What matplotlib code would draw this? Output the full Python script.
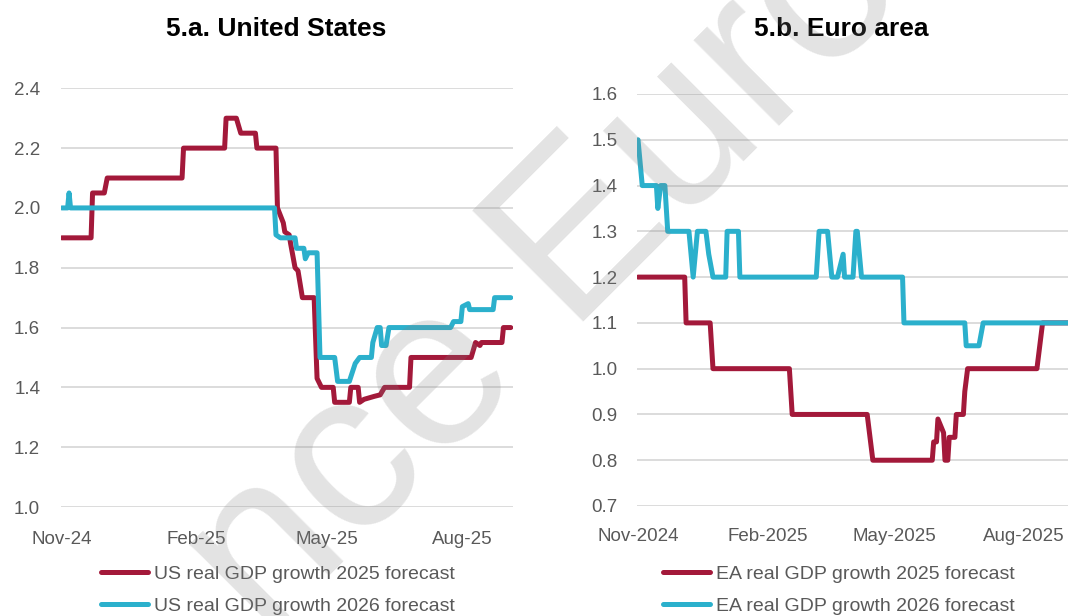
"""Real GDP growth forecasts for 2025 and 2026: United States vs Euro area."""
from datetime import datetime
import matplotlib
matplotlib.use("Agg")
import matplotlib.pyplot as plt
import matplotlib.dates as mdates
from matplotlib.ticker import FormatStrFormatter

plt.rcParams["font.family"] = ["Liberation Sans", "DejaVu Sans"]

RED = "#A3193A"
CYAN = "#2BB0CC"
GRID = "#D9D9D9"
TXT = "#595959"

# ---- data (change points of the consensus forecasts) ----
us25_dates = ["2024-11-01", "2024-11-21", "2024-11-22", "2024-11-30", "2024-12-02",
              "2025-01-22", "2025-01-23", "2025-02-20", "2025-02-21", "2025-02-28",
              "2025-03-03", "2025-03-13", "2025-03-14", "2025-03-27", "2025-03-28",
              "2025-04-01", "2025-04-02", "2025-04-05", "2025-04-06", "2025-04-09",
              "2025-04-11", "2025-04-14", "2025-04-22", "2025-04-24", "2025-04-27",
              "2025-05-05", "2025-05-06", "2025-05-16", "2025-05-17", "2025-05-22",
              "2025-05-23", "2025-05-26", "2025-06-02", "2025-06-06", "2025-06-09",
              "2025-06-26", "2025-06-27", "2025-08-07", "2025-08-10", "2025-08-13",
              "2025-08-14", "2025-08-28", "2025-08-29", "2025-09-03"]
us25_vals = [1.90, 1.90, 2.05, 2.05, 2.10,
             2.10, 2.20, 2.20, 2.30, 2.30,
             2.25, 2.25, 2.20, 2.20, 2.00,
             1.95, 1.92, 1.91, 1.88, 1.80,
             1.79, 1.70, 1.70, 1.43, 1.40,
             1.40, 1.35, 1.35, 1.40, 1.40,
             1.35, 1.36, 1.37, 1.375, 1.40,
             1.40, 1.50, 1.50, 1.55, 1.54,
             1.55, 1.55, 1.60, 1.60]

us26_dates = ["2024-11-01", "2024-11-05", "2024-11-06", "2024-11-07", "2025-03-26",
              "2025-03-27", "2025-03-30", "2025-04-09", "2025-04-10", "2025-04-15",
              "2025-04-16", "2025-04-18", "2025-04-24", "2025-04-26", "2025-05-06",
              "2025-05-08", "2025-05-16", "2025-05-20", "2025-05-23", "2025-05-31",
              "2025-06-01", "2025-06-04", "2025-06-06", "2025-06-07", "2025-06-10",
              "2025-06-12", "2025-07-24", "2025-07-26", "2025-07-31", "2025-08-01",
              "2025-08-05", "2025-08-06", "2025-08-22", "2025-08-23", "2025-09-03"]
us26_vals = [2.00, 2.00, 2.05, 2.00, 2.00,
             1.91, 1.90, 1.90, 1.865, 1.865,
             1.83, 1.85, 1.85, 1.50, 1.50,
             1.42, 1.42, 1.48, 1.50, 1.50,
             1.55, 1.60, 1.60, 1.54, 1.54,
             1.60, 1.60, 1.62, 1.62, 1.67,
             1.68, 1.66, 1.66, 1.70, 1.70]

ea25_dates = ["2024-11-01", "2024-12-04", "2024-12-05", "2024-12-22", "2024-12-24",
              "2025-02-16", "2025-02-18", "2025-04-12", "2025-04-16", "2025-05-28",
              "2025-05-29", "2025-05-31", "2025-06-01", "2025-06-05", "2025-06-06",
              "2025-06-08", "2025-06-09", "2025-06-13", "2025-06-14", "2025-06-19",
              "2025-06-20", "2025-06-22", "2025-08-10", "2025-08-14", "2025-09-03"]
ea25_vals = [1.20, 1.20, 1.10, 1.10, 1.00,
             1.00, 0.90, 0.90, 0.80, 0.80,
             0.84, 0.84, 0.89, 0.86, 0.80,
             0.80, 0.85, 0.85, 0.90, 0.90,
             0.95, 1.00, 1.00, 1.10, 1.10]

ea26_dates = ["2024-11-01", "2024-11-04", "2024-11-14", "2024-11-15", "2024-11-17",
              "2024-11-20", "2024-11-22", "2024-12-07", "2024-12-10", "2024-12-13",
              "2024-12-19", "2024-12-21", "2024-12-24", "2025-01-02", "2025-01-03",
              "2025-01-11", "2025-01-12", "2025-03-07", "2025-03-09", "2025-03-15",
              "2025-03-18", "2025-03-22", "2025-03-26", "2025-03-27", "2025-04-02",
              "2025-04-04", "2025-04-05", "2025-04-08", "2025-05-07", "2025-05-08",
              "2025-06-20", "2025-06-21", "2025-06-30", "2025-07-03", "2025-09-03"]
ea26_vals = [1.50, 1.40, 1.40, 1.35, 1.40,
             1.40, 1.30, 1.30, 1.20, 1.30,
             1.30, 1.25, 1.20, 1.20, 1.30,
             1.30, 1.20, 1.20, 1.30, 1.30,
             1.20, 1.20, 1.25, 1.20, 1.20,
             1.30, 1.30, 1.20, 1.20, 1.10,
             1.10, 1.05, 1.05, 1.10, 1.10]

xticks = ["2024-11-01", "2025-02-01", "2025-05-01", "2025-08-01"]


def to_dt(seq):
    return [datetime.strptime(s, "%Y-%m-%d") for s in seq]


W, H = 1068, 616
fig = plt.figure(figsize=(W / 100, H / 100), dpi=100, facecolor="white")

ax1 = fig.add_axes([61 / W, 1 - 507 / H, 451.6 / W, 418.7 / H])
ax2 = fig.add_axes([637.3 / W, 1 - 506 / H, 435 / W, 412 / H])


def style(ax, ylim, yticks, fmt, xfmt, ypad, xpad):
    ax.set_facecolor("none")
    for spine in ax.spines.values():
        spine.set_visible(False)
    ax.set_ylim(*ylim)
    ax.set_yticks(yticks)
    ax.yaxis.set_major_formatter(FormatStrFormatter(fmt))
    ax.set_xticks(to_dt(xticks))
    ax.xaxis.set_major_formatter(mdates.DateFormatter(xfmt))
    ax.grid(True, axis="y", color=GRID, linewidth=1.3)
    ax.set_axisbelow(True)
    ax.tick_params(axis="both", length=0, labelsize=13.5, labelcolor=TXT)
    ax.tick_params(axis="y", pad=ypad)
    ax.tick_params(axis="x", pad=xpad)


lw = 3.6
kw = dict(linewidth=lw, solid_capstyle="round", solid_joinstyle="round")

# ---- 5.a United States ----
ax1.plot(to_dt(us25_dates), us25_vals, color=RED, label="US real GDP growth 2025 forecast", **kw)
ax1.plot(to_dt(us26_dates), us26_vals, color=CYAN, label="US real GDP growth 2026 forecast", **kw)
ax1.set_xlim(datetime(2024, 10, 31, 12), datetime(2025, 9, 4, 6))
style(ax1, (1.0, 2.4), [1.0 + 0.2 * i for i in range(8)], "%.1f", "%b-%y", 15, 17)

# ---- 5.b Euro area ----
ax2.plot(to_dt(ea25_dates), ea25_vals, color=RED, label="EA real GDP growth 2025 forecast", **kw)
ax2.plot(to_dt(ea26_dates), ea26_vals, color=CYAN, label="EA real GDP growth 2026 forecast", **kw)
ax2.set_xlim(datetime(2024, 10, 31, 12), datetime(2025, 9, 4))
style(ax2, (0.7, 1.6), [0.7 + 0.1 * i for i in range(10)], "%.1f", "%b-%Y", 14, 16)

fig.text(276 / W, 1 - 29 / H, "5.a. United States", ha="center", va="center",
         fontsize=19, fontweight="bold", color="black")
fig.text(841 / W, 1 - 29 / H, "5.b. Euro area", ha="center", va="center",
         fontsize=19, fontweight="bold", color="black")

for ax, x0 in ((ax1, 101), (ax2, 663)):
    ax.legend(loc="upper left", bbox_to_anchor=(x0 / W, 1 - 565 / H),
              bbox_transform=fig.transFigure, frameon=False, fontsize=14,
              labelcolor=TXT, handlelength=2.4, handletextpad=0.3,
              labelspacing=0.76, borderpad=0, borderaxespad=0)

# watermark (partly outside the figure, as in the original)
fig.text(547 / W, 1 - 274 / H, "nce Euro", ha="center", va="center",
         rotation=45, rotation_mode="anchor", fontsize=165, color="#808080",
         alpha=0.22, zorder=10)

fig.savefig("out.png", dpi=100, facecolor="white")
